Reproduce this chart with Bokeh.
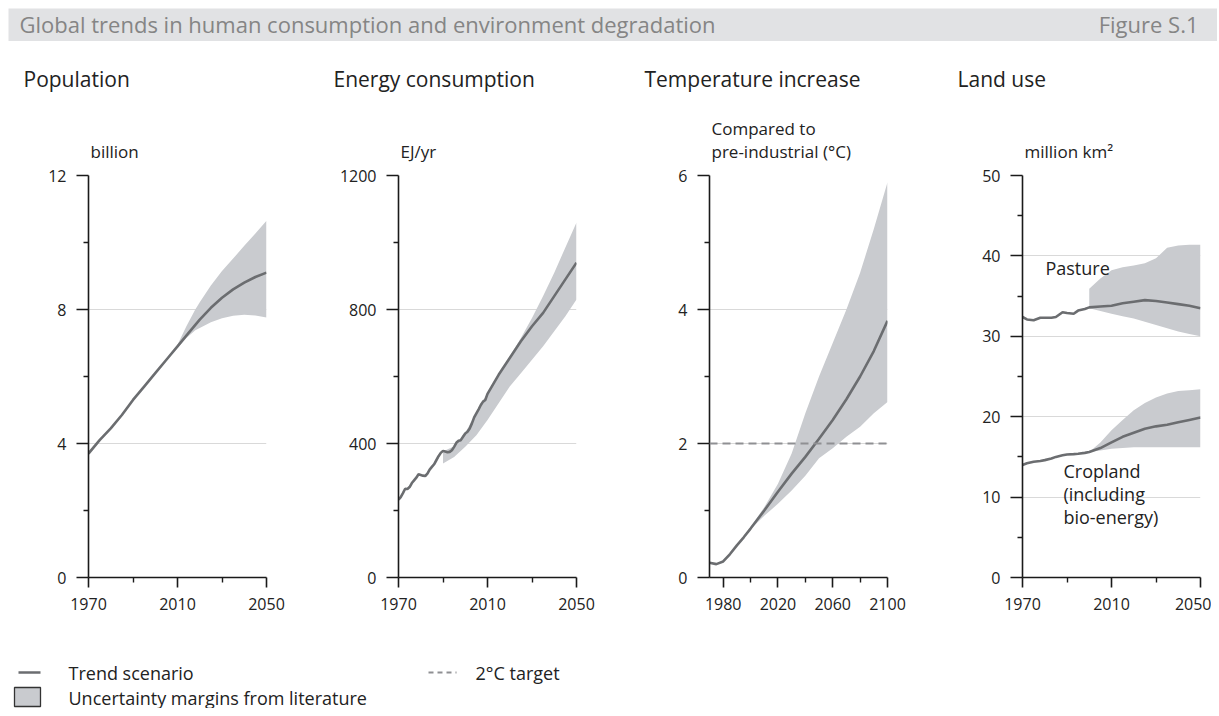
from bokeh.plotting import figure
from bokeh.models import Range1d, FixedTicker, Label, Span
from bokeh.layouts import column, row
from bokeh.embed import file_html
from bokeh.resources import INLINE

FONT = "Open Sans"
LINE_COLOR = "#6b6d70"
BAND_COLOR = "#c9cbcf"
GRID_COLOR = "#d9d9d9"
AXIS_COLOR = "#1a1a1a"
TEXT_COLOR = "#222222"
DASH_COLOR = "#8f9093"

# ---------------- data ----------------
# Population (billion)
pop_years = [1970, 1975, 1980, 1985, 1990, 1995, 2000, 2005, 2010, 2015, 2020, 2025, 2030, 2035, 2040, 2045, 2050]
pop_trend = [3.7, 4.1, 4.45, 4.85, 5.3, 5.7, 6.1, 6.5, 6.9, 7.3, 7.7, 8.05, 8.35, 8.6, 8.8, 8.97, 9.1]
pop_band_years = [2010, 2014, 2018, 2020, 2025, 2030, 2035, 2040, 2045, 2050]
pop_low = [6.85, 7.15, 7.38, 7.45, 7.62, 7.74, 7.81, 7.84, 7.82, 7.76]
pop_high = [6.95, 7.5, 8.0, 8.22, 8.72, 9.15, 9.52, 9.9, 10.27, 10.65]

# Energy consumption (EJ/yr)
energy_years = list(range(1970, 2011)) + [2015, 2020, 2025, 2030, 2035, 2040, 2045, 2050]
energy_trend = [232, 240, 252, 265, 264, 270, 282, 290, 298, 308,
                306, 304, 303, 310, 322, 330, 338, 350, 362, 372,
                378, 376, 374, 375, 380, 390, 402, 408, 410, 420,
                430, 435, 445, 460, 478, 490, 502, 515, 525, 530, 548,
                605, 655, 705, 750, 790, 840, 890, 940]
energy_band_years = [1990, 1995, 2000, 2005, 2010, 2015, 2020, 2025, 2030, 2035, 2040, 2045, 2050]
energy_low = [340, 360, 390, 425, 470, 520, 570, 610, 650, 690, 735, 780, 830]
energy_high = [376, 392, 432, 492, 550, 607, 660, 715, 775, 840, 910, 985, 1060]

# Temperature increase (deg C compared to pre-industrial)
temp_years = [1970, 1975, 1980, 1985, 1990, 1995, 2000, 2010, 2020, 2030, 2040, 2050, 2060, 2070, 2080, 2090, 2100]
temp_trend = [0.22, 0.2, 0.24, 0.35, 0.48, 0.6, 0.73, 1.0, 1.28, 1.55, 1.8, 2.07, 2.35, 2.66, 3.0, 3.38, 3.83]
temp_band_years = [2000, 2010, 2020, 2030, 2040, 2050, 2060, 2070, 2080, 2090, 2100]
temp_low = [0.72, 0.92, 1.1, 1.3, 1.52, 1.78, 1.93, 2.1, 2.25, 2.45, 2.62]
temp_high = [0.75, 1.05, 1.4, 1.85, 2.45, 3.0, 3.5, 4.0, 4.55, 5.2, 5.9]
temp_target = 2.0

# Land use (million km2)
land_years = [1970, 1972, 1975, 1978, 1980, 1983, 1985, 1988, 1990, 1993, 1995, 1998, 2000,
              2005, 2010, 2015, 2020, 2025, 2030, 2035, 2040, 2045, 2050]
pasture_trend = [32.4, 32.1, 32.0, 32.3, 32.3, 32.3, 32.4, 33.0, 32.9, 32.8, 33.2, 33.4, 33.6,
                 33.7, 33.8, 34.1, 34.3, 34.5, 34.4, 34.2, 34.0, 33.8, 33.5]
cropland_trend = [14.0, 14.2, 14.4, 14.5, 14.6, 14.8, 15.0, 15.2, 15.3, 15.35, 15.4, 15.5, 15.6,
                  16.1, 16.8, 17.5, 18.0, 18.5, 18.8, 19.0, 19.3, 19.6, 19.9]
land_band_years = [2000, 2005, 2010, 2015, 2020, 2025, 2030, 2035, 2040, 2045, 2050]
pasture_low = [33.5, 33.15, 32.8, 32.5, 32.2, 31.8, 31.4, 31.0, 30.6, 30.3, 30.0]
pasture_high = [35.9, 37.2, 38.2, 38.6, 38.8, 39.1, 39.7, 41.0, 41.3, 41.4, 41.4]
cropland_low = [15.6, 15.8, 16.0, 16.1, 16.2, 16.2, 16.2, 16.2, 16.2, 16.2, 16.2]
cropland_high = [15.6, 16.8, 18.3, 19.6, 20.8, 21.7, 22.4, 22.9, 23.2, 23.3, 23.4]

chart_title = "Global trends in human consumption and environment degradation"
figure_label = "Figure S.1"
panel_titles = ["Population", "Energy consumption", "Temperature increase", "Land use"]
unit_labels = [["billion"], ["EJ/yr"], ["Compared to", "pre-industrial (°C)"], ["million km²"]]
legend_labels = ["Trend scenario", "Uncertainty margins from literature", "2°C target"]

# ---------------- layout constants (pixels) ----------------
W = 1203
FRAME_H = 402
PANEL_TOP = 12
PANEL_BOTTOM = 45
PANELS = [  # width, border left, border right
    (310, 80, 52),
    (310, 80, 52),
    (312, 81, 53),
    (271, 82, 11),
]
HEADER_H = 122


def blank_fig(width, height, bg="white"):
    f = figure(width=width, height=height, x_range=Range1d(0, width), y_range=Range1d(0, height),
               output_backend="svg", toolbar_location=None, min_border=0)
    f.axis.visible = False
    f.grid.visible = False
    f.outline_line_color = None
    f.background_fill_color = bg
    f.border_fill_color = bg
    return f


def make_panel(idx, xr, yr, xmaj, xmin, ymaj, ymin):
    width, left, right = PANELS[idx]
    p = figure(width=width, height=PANEL_TOP + FRAME_H + PANEL_BOTTOM,
               x_range=Range1d(*xr), y_range=Range1d(*yr),
               output_backend="svg", toolbar_location=None,
               min_border_left=left, min_border_right=right,
               min_border_top=PANEL_TOP, min_border_bottom=PANEL_BOTTOM)
    p.outline_line_color = None
    p.border_fill_color = "white"
    p.background_fill_color = "white"
    p.xaxis.ticker = FixedTicker(ticks=xmaj, minor_ticks=xmin)
    p.yaxis.ticker = FixedTicker(ticks=ymaj, minor_ticks=ymin)
    for ax in (p.xaxis[0], p.yaxis[0]):
        ax.axis_line_color = AXIS_COLOR
        ax.axis_line_width = 1.6
        ax.major_tick_line_color = AXIS_COLOR
        ax.major_tick_line_width = 1.6
        ax.minor_tick_line_color = AXIS_COLOR
        ax.minor_tick_line_width = 1.4
        ax.major_tick_in = 0
        ax.minor_tick_in = 0
        ax.minor_tick_out = 5
        ax.major_label_text_font = FONT
        ax.major_label_text_font_size = "16px"
        ax.major_label_text_color = TEXT_COLOR
    p.yaxis.major_tick_out = 12
    p.yaxis.major_label_standoff = 10
    p.xaxis.major_tick_out = 10
    p.xaxis.major_label_standoff = 10
    p.xgrid.visible = False
    p.ygrid.ticker = FixedTicker(ticks=ymaj)
    p.ygrid.grid_line_color = GRID_COLOR
    p.ygrid.grid_line_width = 1
    return p


# ---------------- title bar ----------------
tb = blank_fig(1209, 33, bg="#e1e2e4")
tb.add_layout(Label(x=11, y=18, text=chart_title, text_font=FONT, text_font_size="22px",
                    text_color="#858585", text_baseline="middle"))
tb.add_layout(Label(x=1190, y=18, text=figure_label, text_font=FONT, text_font_size="22px",
                    text_color="#858585", text_align="right", text_baseline="middle"))

# ---------------- header: panel titles and units ----------------
hd = blank_fig(W, HEADER_H)
frame_lefts = []
acc = 0
for width, left, right in PANELS:
    frame_lefts.append(acc + left)
    acc += width
for i, title in enumerate(panel_titles):
    hd.add_layout(Label(x=frame_lefts[i] - 65, y=HEADER_H - 37, text=title, text_font=FONT,
                        text_font_size="21px", text_color=TEXT_COLOR, text_baseline="middle"))
    units = unit_labels[i]
    n = len(units)
    for j, u in enumerate(units):
        hd.add_layout(Label(x=frame_lefts[i] + 2, y=12 + 23 * (n - 1 - j), text=u, text_font=FONT,
                            text_font_size="17px", text_color=TEXT_COLOR, text_baseline="middle"))

# ---------------- panels ----------------
p1 = make_panel(0, (1970, 2050), (0, 12), [1970, 2010, 2050], [1990, 2030], [0, 4, 8, 12], [2, 6, 10])
p1.varea(x=pop_band_years, y1=pop_low, y2=pop_high, fill_color=BAND_COLOR)
p1.line(pop_years, pop_trend, line_color=LINE_COLOR, line_width=2.6)

p2 = make_panel(1, (1970, 2050), (0, 1200), [1970, 2010, 2050], [1990, 2030],
                [0, 400, 800, 1200], [200, 600, 1000])
p2.varea(x=energy_band_years, y1=energy_low, y2=energy_high, fill_color=BAND_COLOR)
p2.line(energy_years, energy_trend, line_color=LINE_COLOR, line_width=2.6)

p3 = make_panel(2, (1970, 2100), (0, 6), [1980, 2020, 2060, 2100], [2000, 2040, 2080],
                [0, 2, 4, 6], [1, 3, 5])
p3.varea(x=temp_band_years, y1=temp_low, y2=temp_high, fill_color=BAND_COLOR)
p3.add_layout(Span(location=temp_target, dimension="width", line_color=DASH_COLOR,
                   line_width=2, line_dash="8 5"))
p3.line(temp_years, temp_trend, line_color=LINE_COLOR, line_width=2.6)

p4 = make_panel(3, (1970, 2050), (0, 50), [1970, 2010, 2050], [1990, 2030],
                [0, 10, 20, 30, 40, 50], [5, 15, 25, 35, 45])
p4.varea(x=land_band_years, y1=pasture_low, y2=pasture_high, fill_color=BAND_COLOR)
p4.varea(x=land_band_years, y1=cropland_low, y2=cropland_high, fill_color=BAND_COLOR)
p4.line(land_years, pasture_trend, line_color=LINE_COLOR, line_width=2.6)
p4.line(land_years, cropland_trend, line_color=LINE_COLOR, line_width=2.6)
p4.add_layout(Label(x=1980.3, y=38.5, text="Pasture", text_font=FONT, text_font_size="18px",
                    text_color=TEXT_COLOR, text_baseline="middle"))
for txt, yv in [("Cropland", 13.3), ("(including", 10.4), ("bio-energy)", 7.5)]:
    p4.add_layout(Label(x=1988.4, y=yv, text=txt, text_font=FONT, text_font_size="18px",
                        text_color=TEXT_COLOR, text_baseline="middle"))

# ---------------- legend (key swatches in pixel space) ----------------
LEG_H = 86
lg = blank_fig(W, LEG_H)
lg.line(x=[10, 32], y=[36, 36], line_color=LINE_COLOR, line_width=2.6)
lg.quad(left=[6], right=[32], bottom=[2], top=[21], fill_color=BAND_COLOR,
        line_color="#333333", line_width=1.3)
lg.line(x=[420, 448], y=[36, 36], line_color=DASH_COLOR, line_width=2, line_dash="5 4")
for txt, xx, yy in [(legend_labels[0], 60, 36), (legend_labels[1], 60, 11), (legend_labels[2], 467, 36)]:
    lg.add_layout(Label(x=xx, y=yy, text=txt, text_font=FONT, text_font_size="18px",
                        text_color=TEXT_COLOR, text_baseline="middle"))

layout = column(tb, hd, row(p1, p2, p3, p4), lg, margin=(8, 0, 0, 8))
open("out.html", "w").write(file_html(layout, INLINE))
